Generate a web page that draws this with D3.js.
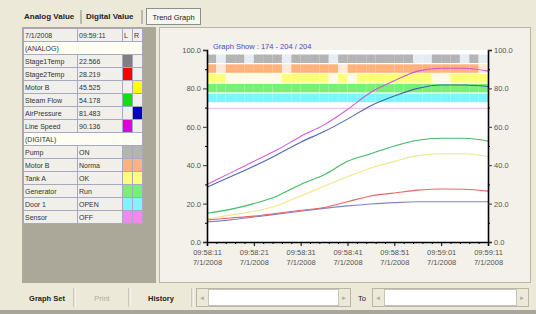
<!DOCTYPE html>
<html>
<head>
<meta charset="utf-8">
<script src="https://cdn.jsdelivr.net/npm/d3@7"></script>
<style>
  body { margin: 0; background: #ece9d8; }
  text { font-family: "Liberation Sans", Arial, sans-serif; }
</style>
</head>
<body>
<div id="chart"></div>
<script>
// ---- data ----
const analogNames = ["Stage1Temp", "Stage2Temp", "Motor B", "Steam Flow", "AirPressure", "Line Speed"];
const analogValues = ["22.566", "28.219", "45.525", "54.178", "81.483", "90.136"];
const analogSide = ["L", "L", "R", "L", "R", "L"];
const analogColors = ["#808080", "#ff0000", "#ffff00", "#10e010", "#0000c0", "#e000e0"];
const lineColors = ["#7878b8", "#e05858", "#eee070", "#30b050", "#3858a8", "#d048d8"];

const digitalNames = ["Pump", "Motor B", "Tank A", "Generator", "Door 1", "Sensor"];
const digitalStates = ["ON", "Norma", "OK", "Run", "OPEN", "OFF"];
const digitalColors = ["#b4b4b4", "#ffb27c", "#ffff78", "#78f078", "#80f4fc", "#f088f0"];
const digitalOff = ["#e6eef4", "#fde9da", "#fffbe0", "#e4fce4", "#e0fcfe", "#f4c4f4"];

// seconds after 09:58:11
const seconds = [0, 5, 10, 15, 20, 25, 30, 35, 40, 45, 50, 55, 60];
const stage1Temp  = [10.5, 11.5, 13, 14.5, 16, 17.5, 18.8, 19.8, 20.5, 21, 21, 21, 21];
const stage2Temp  = [11.5, 12.5, 13.5, 15, 16.5, 18, 21, 24, 25.5, 27, 27.6, 27.5, 26.5];
const motorB      = [12, 14, 16, 19, 24, 29, 34, 38.5, 42, 45, 46, 46, 44.5];
const steamFlow   = [15, 17, 20, 24, 30, 35, 42, 46, 50, 53, 54, 54, 52.5];
const airPressure = [28.5, 34, 39.5, 45.5, 52, 57.5, 64, 71, 76, 80, 81.8, 81.8, 81];
const lineSpeed   = [30, 36, 42, 48, 55, 61, 69, 78, 84, 89, 90.5, 90.5, 89];
const analogSeries = [stage1Temp, stage2Temp, motorB, steamFlow, airPressure, lineSpeed];

// digital samples every 2 s
const pumpBits      = [1,0,1,1,0,1,1,1,0,1,1,1,1,0,1,1,1,1,1,1,1,1,0,0,1,1,1,0,1,0];
const motorBBits    = [1,0,1,1,1,1,1,1,0,1,1,1,1,1,0,1,1,1,1,1,1,1,1,1,1,1,1,1,1,0];
const tankABits     = [1,1,0,0,0,0,0,0,1,1,1,1,1,0,1,0,1,1,1,1,1,1,1,1,0,0,1,1,1,1];
const generatorBits = [1,1,1,1,1,1,1,1,1,1,1,1,1,1,1,1,1,1,1,1,1,1,1,1,1,1,1,1,1,1];
const door1Bits     = [1,1,1,1,1,1,1,1,1,1,1,1,1,1,1,1,1,1,1,1,1,1,1,1,1,1,1,1,1,1];
const sensorBits    = [0,0,0,0,0,0,0,0,0,0,0,0,0,0,0,0,0,0,0,0,0,0,0,0,0,0,0,0,0,0];
const digitalSeries = [pumpBits, motorBBits, tankABits, generatorBits, door1Bits, sensorBits];

const tickSeconds = [0, 10, 20, 30, 40, 50, 60];
const tickLabels = ["09:58:11", "09:58:21", "09:58:31", "09:58:41", "09:58:51", "09:59:01", "09:59:11"];
const dateLabel = "7/1/2008";
const yTicks = [0, 20, 40, 60, 80, 100];

// ---- layout ----
const W = 536, H = 314;
const svg = d3.select("#chart").append("svg").attr("width", W).attr("height", H);
svg.append("rect").attr("width", W).attr("height", H).attr("fill", "#ece9d8");

// tabs
svg.append("text").attr("x", 24).attr("y", 19).attr("font-size", 8).attr("font-weight", "bold")
    .attr("fill", "#222").text("Analog Value");
svg.append("line").attr("x1", 81).attr("x2", 81).attr("y1", 10).attr("y2", 24).attr("stroke", "#888");
svg.append("text").attr("x", 86).attr("y", 19).attr("font-size", 8).attr("font-weight", "bold")
    .attr("fill", "#222").text("Digital Value");
svg.append("line").attr("x1", 142).attr("x2", 142).attr("y1", 10).attr("y2", 24).attr("stroke", "#888");
svg.append("rect").attr("x", 146.5).attr("y", 8.5).attr("width", 54).attr("height", 16)
    .attr("fill", "#f6f5ef").attr("stroke", "#8a8f90");
svg.append("text").attr("x", 173.5).attr("y", 19.5).attr("font-size", 7.5).attr("text-anchor", "middle")
    .attr("fill", "#222").text("Trend Graph");

// left panel
svg.append("rect").attr("x", 22).attr("y", 27).attr("width", 134).attr("height", 256).attr("fill", "#aca899");

const tableX = 23, tableY = 28, rowH = 13;
const colX = [23, 77, 122, 132, 142];
const rows = [];
rows.push({type: "head", cells: [dateLabel, "09:59:11", "L", "R"]});
rows.push({type: "section", label: "(ANALOG)"});
analogNames.forEach((n, i) => rows.push({
    type: "row", cells: [n, analogValues[i]],
    left: analogSide[i] === "L" ? analogColors[i] : "#f0efea",
    right: analogSide[i] === "R" ? analogColors[i] : "#f0efea"
}));
rows.push({type: "section", label: "(DIGITAL)"});
digitalNames.forEach((n, i) => rows.push({
    type: "row", cells: [n, digitalStates[i]], left: digitalColors[i], right: digitalColors[i]
}));

const tbl = svg.append("g");
rows.forEach((r, i) => {
    const y0 = tableY + i * rowH;
    if (r.type === "section") {
        tbl.append("rect").attr("x", colX[0] + 0.5).attr("y", y0 + 0.5).attr("width", colX[4] - colX[0])
            .attr("height", rowH).attr("fill", "#fdfdf2").attr("stroke", "#a6a9c0");
        tbl.append("text").attr("x", colX[0] + 2).attr("y", y0 + 9.5).attr("font-size", 7)
            .attr("fill", "#333").text(r.label);
        return;
    }
    for (let c = 0; c < 4; c++) {
        let fill = "#f0efea";
        if (r.type === "row" && c === 2) fill = r.left;
        if (r.type === "row" && c === 3) fill = r.right;
        tbl.append("rect").attr("x", colX[c] + 0.5).attr("y", y0 + 0.5).attr("width", colX[c + 1] - colX[c])
            .attr("height", rowH).attr("fill", fill).attr("stroke", "#a6a9c0");
        const t = r.cells[c];
        if (t !== undefined) {
            tbl.append("text").attr("x", colX[c] + 2).attr("y", y0 + 9.5).attr("font-size", 7)
                .attr("fill", "#333").text(t);
        }
    }
});

// chart frame
svg.append("rect").attr("x", 159.5).attr("y", 27.5).attr("width", 371).attr("height", 255)
    .attr("fill", "#f3f1e9").attr("stroke", "#b8b5a8");

const x = d3.scaleLinear().domain([0, 60]).range([207, 488]);
const y = d3.scaleLinear().domain([0, 100]).range([242, 50]);

svg.append("rect").attr("x", x(0)).attr("y", y(100)).attr("width", x(60) - x(0)).attr("height", y(0) - y(100))
    .attr("fill", "#ffffff");

// digital bands
const bandTop = 54.5, bandPitch = 9.8, bandH = 8.5;
const bands = svg.append("g");
digitalSeries.forEach((bits, k) => {
    const top = bandTop + k * bandPitch;
    bits.forEach((b, j) => {
        const t0 = j * 2, t1 = j * 2 + 2;
        if (b === 1) {
            bands.append("rect").attr("x", x(t0)).attr("y", top).attr("width", x(t1) - x(t0)).attr("height", bandH)
                .attr("fill", digitalColors[k]);
        } else if (k === 5) {
            bands.append("rect").attr("x", x(t0)).attr("y", top + bandH / 2).attr("width", x(t1) - x(t0)).attr("height", 1.3)
                .attr("fill", digitalOff[k]);
        } else {
            bands.append("rect").attr("x", x(t0)).attr("y", top).attr("width", x(t1) - x(t0)).attr("height", bandH)
                .attr("fill", digitalOff[k]);
        }
    });
});

// analog lines
const line = d3.line()
    .x((d, i) => x(seconds[i]))
    .y(d => y(d))
    .curve(d3.curveMonotoneX);
svg.append("g").selectAll("path").data(analogSeries).join("path")
    .attr("d", line)
    .attr("fill", "none")
    .attr("stroke", (d, i) => lineColors[i])
    .attr("stroke-width", 1.1)
    .attr("stroke-opacity", (d, i) => i === 2 ? 0.8 : 0.9);

// axes
const axisFont = g => g.selectAll("text").attr("font-size", 7.5).attr("fill", "#555")
    .attr("font-family", "Liberation Sans, Arial, sans-serif");

const yLeft = svg.append("g").attr("transform", `translate(${x(0)},0)`)
    .call(d3.axisLeft(y).tickValues(yTicks).tickFormat(d3.format(".1f")).tickSize(4).tickPadding(2));
yLeft.call(axisFont);
const yRight = svg.append("g").attr("transform", `translate(${x(60)},0)`)
    .call(d3.axisRight(y).tickValues(yTicks).tickFormat(d3.format(".1f")).tickSize(4).tickPadding(2));
yRight.call(axisFont);
[yLeft, yRight].forEach(g => {
    g.select(".domain").attr("stroke", "#000").attr("stroke-width", 1.6);
    g.selectAll(".tick line").attr("stroke", "#333");
});

// minor y ticks
svg.append("g").attr("transform", `translate(${x(0)},0)`)
    .call(d3.axisLeft(y).tickValues([10, 30, 50, 70, 90]).tickFormat("").tickSize(2))
    .call(g => g.select(".domain").remove());
svg.append("g").attr("transform", `translate(${x(60)},0)`)
    .call(d3.axisRight(y).tickValues([10, 30, 50, 70, 90]).tickFormat("").tickSize(2))
    .call(g => g.select(".domain").remove());

const xAxis = svg.append("g").attr("transform", `translate(0,${y(0)})`)
    .call(d3.axisBottom(x).tickValues(tickSeconds).tickSize(4).tickPadding(4));
xAxis.select(".domain").attr("stroke", "#000").attr("stroke-width", 1.6);
xAxis.selectAll(".tick text").each(function(d, i) {
    const t = d3.select(this).text(null).attr("font-size", 7.5).attr("fill", "#555")
        .attr("font-family", "Liberation Sans, Arial, sans-serif");
    t.append("tspan").attr("x", 0).attr("dy", "0.71em").text(tickLabels[i]);
    t.append("tspan").attr("x", 0).attr("dy", "1.35em").text(dateLabel);
});
svg.append("g").attr("transform", `translate(0,${y(0)})`)
    .call(d3.axisBottom(x).tickValues(d3.range(2, 60, 2).filter(s => s % 10 !== 0)).tickFormat("").tickSize(2))
    .call(g => g.select(".domain").remove());

svg.append("text").attr("x", 213).attr("y", 49).attr("font-size", 7.5).attr("fill", "#4a4ac0")
    .text("Graph Show : 174 - 204 / 204");

// bottom controls
const btn = (cx, label, color, bold) => svg.append("text").attr("x", cx).attr("y", 301)
    .attr("font-size", 7.5).attr("text-anchor", "middle").attr("font-weight", bold ? "bold" : "normal")
    .attr("fill", color).text(label);
btn(47, "Graph Set", "#222", true);
btn(102, "Print", "#b0ad a0".replace(" ", ""), false);
btn(161, "History", "#222", true);
[74, 129, 192].forEach(sx => {
    svg.append("line").attr("x1", sx).attr("x2", sx).attr("y1", 288).attr("y2", 307).attr("stroke", "#aca899");
    svg.append("line").attr("x1", sx + 1).attr("x2", sx + 1).attr("y1", 288).attr("y2", 307).attr("stroke", "#fff");
});

const field = (x0, x1) => {
    svg.append("rect").attr("x", x0 + 0.5).attr("y", 288.5).attr("width", x1 - x0).attr("height", 18)
        .attr("fill", "#ece9d8").attr("stroke", "#b8b5a8");
    svg.append("rect").attr("x", x0 + 12.5).attr("y", 289.5).attr("width", x1 - x0 - 24).attr("height", 16)
        .attr("fill", "#fff").attr("stroke", "#c8c5b8");
    svg.append("text").attr("x", x0 + 6).attr("y", 300).attr("font-size", 6).attr("text-anchor", "middle")
        .attr("fill", "#aaa").text("\u25C4");
    svg.append("text").attr("x", x1 - 6).attr("y", 300).attr("font-size", 6).attr("text-anchor", "middle")
        .attr("fill", "#aaa").text("\u25BA");
};
field(196, 350);
svg.append("text").attr("x", 362).attr("y", 301).attr("font-size", 7.5).attr("text-anchor", "middle")
    .attr("fill", "#222").text("To");
field(372, 528);

svg.append("rect").attr("x", 0).attr("y", 310).attr("width", W).attr("height", 4).attr("fill", "#a7a59c");
</script>
</body>
</html>
